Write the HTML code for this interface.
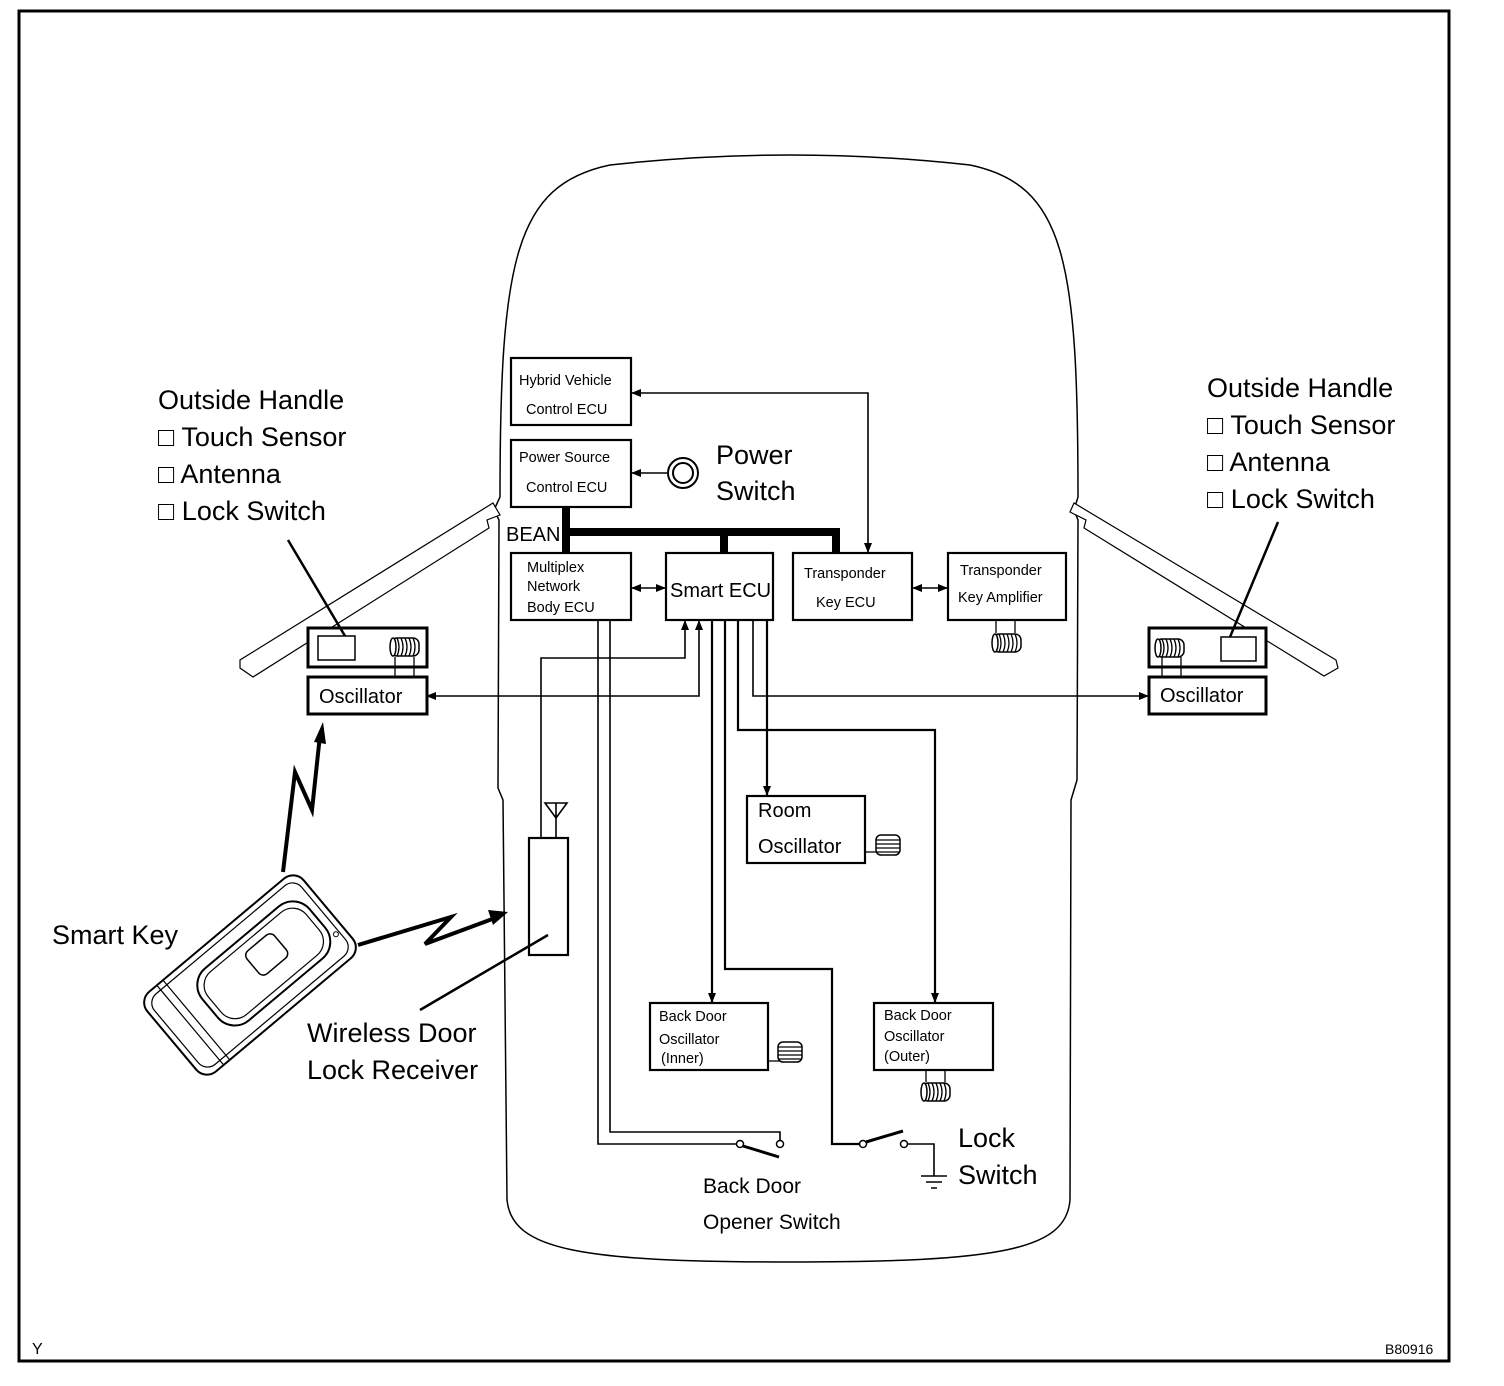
<!DOCTYPE html>
<html><head><meta charset="utf-8"><style>
body{margin:0;background:#fff}
svg{display:block}
text{font-family:"Liberation Sans",sans-serif;fill:#000}
</style></head><body>
<svg width="1504" height="1386" viewBox="0 0 1504 1386" xmlns="http://www.w3.org/2000/svg">
<defs>
<marker id="a" markerWidth="10" markerHeight="8" refX="9" refY="4" orient="auto" markerUnits="userSpaceOnUse"><path d="M0,0 L10,4 L0,8 z" fill="#000"/></marker>
<marker id="s" markerWidth="10" markerHeight="8" refX="1" refY="4" orient="auto" markerUnits="userSpaceOnUse"><path d="M10,0 L0,4 L10,8 z" fill="#000"/></marker>
<g id="coilh"><rect x="-14" y="-9" width="28" height="18" rx="6" fill="#fff" stroke="#000" stroke-width="1.5"/><path d="M-8,-9 q4,9 0,18 M-4,-9 q4,9 0,18 M0,-9 q4,9 0,18 M4,-9 q4,9 0,18 M8,-9 q4,9 0,18" fill="none" stroke="#000" stroke-width="1.3"/><ellipse cx="-12" cy="0" rx="3" ry="9" fill="#fff" stroke="#000" stroke-width="1.5"/></g>
<g id="coilv"><rect x="-12" y="-10" width="24" height="20" rx="5" fill="#fff" stroke="#000" stroke-width="1.5"/><path d="M-12,-5 h24 M-12,-1 h24 M-12,3 h24 M-12,7 h24" stroke="#000" stroke-width="1.2"/></g>
</defs>
<rect x="19" y="11" width="1430" height="1350" fill="none" stroke="#000" stroke-width="3"/>
<!-- car body -->
<path d="M500,497 C500,260 515,185 610,165 Q790,145 970,165 C1065,185 1078,260 1078,497 L1074,510 L1078,520 L1077,780 L1071,800 L1070,1200 C1066,1250 1000,1262 790,1262 C580,1262 512,1250 507,1200 L503,800 L498,788 L499,520 L494,510 Z" fill="none" stroke="#000" stroke-width="1.5"/>
<!-- door bars -->
<path d="M493,503 L500,515 L487,520 L489,528 L253,677 L240,668 L240,660 Z" fill="#fff" stroke="#000" stroke-width="1.2"/>
<path d="M1074,503 L1070,512 L1086,520 L1084,528 L1324,676 L1338,668 L1336,660 Z" fill="#fff" stroke="#000" stroke-width="1.2"/>
<!-- ECU boxes -->
<g fill="#fff" stroke="#000" stroke-width="2.2">
<rect x="511" y="358" width="120" height="67"/>
<rect x="511" y="440" width="120" height="67"/>
<rect x="511" y="553" width="120" height="67"/>
<rect x="666" y="553" width="107" height="67"/>
<rect x="793" y="553" width="119" height="67"/>
<rect x="948" y="553" width="118" height="67"/>
<rect x="747" y="796" width="118" height="67"/>
<rect x="650" y="1003" width="118" height="67"/>
<rect x="874" y="1003" width="119" height="67"/>
<rect x="529" y="838" width="39" height="117"/>
</g>
<g fill="#fff" stroke="#000" stroke-width="3">
<rect x="308" y="628" width="119" height="39"/>
<rect x="308" y="677" width="119" height="37"/>
<rect x="1149" y="628" width="117" height="39"/>
<rect x="1149" y="677" width="117" height="37"/>
</g>
<rect x="318" y="636" width="37" height="24" fill="none" stroke="#000" stroke-width="1.5"/>
<rect x="1221" y="637" width="35" height="24" fill="none" stroke="#000" stroke-width="1.5"/>
<path d="M395,657 V677 M414,657 V677 M1162,657 V677 M1181,657 V677" stroke="#000" stroke-width="1.3"/>
<use href="#coilh" x="405" y="647"/>
<use href="#coilh" x="1170" y="648"/>
<path d="M996,620 V633 M1015,620 V633" stroke="#000" stroke-width="1.3"/>
<use href="#coilh" x="1007" y="643"/>
<path d="M865,852 H878" stroke="#000" stroke-width="1.3"/>
<use href="#coilv" x="888" y="845"/>
<path d="M768,1061 H780" stroke="#000" stroke-width="1.3"/>
<use href="#coilv" x="790" y="1052"/>
<path d="M926,1070 V1082 M945,1070 V1082" stroke="#000" stroke-width="1.3"/>
<use href="#coilh" x="936" y="1092"/>
<!-- BEAN bus -->
<path d="M566,507 V553 M566,532 H836 V553 M724,532 V553" stroke="#000" stroke-width="8" fill="none"/>
<!-- power switch -->
<circle cx="683" cy="473" r="15" fill="none" stroke="#000" stroke-width="2"/>
<circle cx="683" cy="473" r="10" fill="none" stroke="#000" stroke-width="2"/>
<g stroke="#000" stroke-width="1.6" fill="none">
<path d="M668,473 H632" marker-end="url(#a)"/>
<path d="M632,393 H868 V552" marker-start="url(#s)" marker-end="url(#a)"/>
<path d="M632,588 H665" marker-start="url(#s)" marker-end="url(#a)"/>
<path d="M913,588 H947" marker-start="url(#s)" marker-end="url(#a)"/>
<path d="M541,838 V658 H685 V621" marker-end="url(#a)"/>
<path d="M427,696 H699 V621" marker-start="url(#s)" marker-end="url(#a)"/>
<path d="M556,838 V818"/>
<path d="M545,803 H567 L556,818 Z M556,803 V818"/>
<path d="M598,620 V1144 H737"/>
<path d="M610,620 V1132 H780 V1140"/>
<path d="M712,620 V1002" stroke-width="2.2" marker-end="url(#a)"/>
<path d="M725,620 V969 H832 V1144 H860" stroke-width="2.2"/>
<path d="M738,620 V730 H935 V1002" stroke-width="2.2" marker-end="url(#a)"/>
<path d="M753,620 V696 H1148" marker-end="url(#a)"/>
<path d="M767,620 V795" stroke-width="2.2" marker-end="url(#a)"/>
<path d="M907,1144 H934 V1176 M921,1176 H947 M926,1182 H942 M931,1188 H937"/>
</g>
<!-- switches -->
<circle cx="740" cy="1144" r="3.5" fill="#fff" stroke="#000" stroke-width="1.5"/>
<circle cx="780" cy="1144" r="3.5" fill="#fff" stroke="#000" stroke-width="1.5"/>
<path d="M743,1146 L779,1157" stroke="#000" stroke-width="3"/>
<circle cx="863" cy="1144" r="3.5" fill="#fff" stroke="#000" stroke-width="1.5"/>
<circle cx="904" cy="1144" r="3.5" fill="#fff" stroke="#000" stroke-width="1.5"/>
<path d="M866,1142 L903,1131" stroke="#000" stroke-width="3"/>
<!-- leaders -->
<path d="M288,540 L345,636 M1278,522 L1230,637 M420,1010 L548,935" stroke="#000" stroke-width="2.5"/>
<!-- lightning -->
<path d="M283,872 L295,772 L312,810 L320,735" stroke="#000" stroke-width="4" fill="none"/>
<path d="M314,742 L323,722 L326,744 Z" fill="#000"/>
<path d="M358,945 L451,917 L425,944 L495,918" stroke="#000" stroke-width="4" fill="none"/>
<path d="M488,910 L508,912 L493,925 Z" fill="#000"/>
<!-- smart key -->
<g transform="translate(250,975) rotate(-40)">
<rect x="-102" y="-52" width="204" height="104" rx="14" fill="#fff" stroke="#000" stroke-width="2"/>
<rect x="-96" y="-46" width="192" height="92" rx="12" fill="none" stroke="#000" stroke-width="1.2"/>
<rect x="-52" y="-34" width="140" height="68" rx="22" fill="none" stroke="#000" stroke-width="2"/>
<rect x="-46" y="-28" width="128" height="56" rx="18" fill="none" stroke="#000" stroke-width="1.2"/>
<rect x="8" y="-20" width="36" height="30" rx="6" fill="none" stroke="#000" stroke-width="1.5"/>
<path d="M-78,-52 V52 M-70,-52 V52" stroke="#000" stroke-width="1.2"/>
<circle cx="92" cy="24" r="2.5" fill="none" stroke="#000"/>
</g>
<!-- text -->
<g font-size="14.5">
<text x="519" y="385">Hybrid Vehicle</text><text x="526" y="414">Control ECU</text>
<text x="519" y="462">Power Source</text><text x="526" y="492">Control ECU</text>
<text x="527" y="572">Multiplex</text><text x="527" y="591">Network</text><text x="527" y="612">Body ECU</text>
<text x="804" y="578">Transponder</text><text x="816" y="607">Key ECU</text>
<text x="960" y="575">Transponder</text><text x="958" y="602">Key Amplifier</text>
<text x="659" y="1021">Back Door</text><text x="659" y="1044">Oscillator</text><text x="661" y="1063">(Inner)</text>
<text x="884" y="1020">Back Door</text><text x="884" y="1041">Oscillator</text><text x="884" y="1061">(Outer)</text>
</g>
<text x="670" y="597" font-size="20">Smart ECU</text>
<text x="506" y="541" font-size="20">BEAN</text>
<text x="758" y="817" font-size="20">Room</text><text x="758" y="853" font-size="20">Oscillator</text>
<text x="319" y="703" font-size="20">Oscillator</text>
<text x="1160" y="702" font-size="20">Oscillator</text>
<g font-size="27">
<text x="716" y="464">Power</text><text x="716" y="500">Switch</text>
<text x="158" y="409">Outside Handle</text>
<text x="158" y="446">□ Touch Sensor</text>
<text x="158" y="483">□ Antenna</text>
<text x="158" y="520">□ Lock Switch</text>
<text x="1207" y="397">Outside Handle</text>
<text x="1207" y="434">□ Touch Sensor</text>
<text x="1207" y="471">□ Antenna</text>
<text x="1207" y="508">□ Lock Switch</text>
<text x="52" y="944">Smart Key</text>
<text x="307" y="1042">Wireless Door</text>
<text x="307" y="1079">Lock Receiver</text>
<text x="958" y="1147">Lock</text><text x="958" y="1184">Switch</text>
</g>
<text x="703" y="1193" font-size="21">Back Door</text>
<text x="703" y="1229" font-size="21">Opener Switch</text>
<text x="32" y="1354" font-size="16">Y</text>
<text x="1385" y="1354" font-size="14">B80916</text>
</svg>
</body></html>
